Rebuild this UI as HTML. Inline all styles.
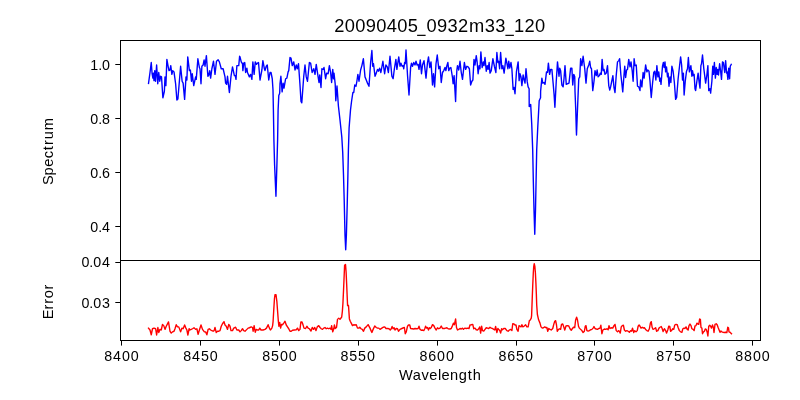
<!DOCTYPE html>
<html><head><meta charset="utf-8"><title>20090405_0932m33_120</title>
<style>html,body{margin:0;padding:0;background:#fff;}svg{display:block;}text{font-family:"Liberation Sans",sans-serif;fill:#000;}</style>
</head><body>
<svg width="800" height="400" viewBox="0 0 800 400" style="will-change:transform">
<rect x="0" y="0" width="800" height="400" fill="#ffffff"/>
<path d="M148.5 83.5 L150 72.5 L151.25 62.5 L152.12 73.75 L152.88 78.12 L153.38 73.12 L154 80.62 L154.75 70.62 L155.5 81.25 L156.62 65 L157.75 83.75 L158.75 72.5 L159.75 81.25 L160.62 76.25 L161.5 76.88 L162.88 97.75 L164.38 91.25 L165 76.88 L165.88 85.62 L166.88 59.38 L168.12 66.25 L169 70.62 L170 70 L170.75 65.62 L171.88 74.38 L172.75 70.62 L174 71.88 L175.62 83.75 L176.88 100 L177.88 99 L179.38 81.25 L180.62 66.25 L182.12 81.25 L183.12 83.12 L184.62 99.38 L186 76.88 L186.88 80 L187.75 56.88 L189.38 70.62 L190.38 70 L191.5 81.25 L192.25 73.75 L193.75 85.62 L195.62 76.88 L196.25 79.38 L197.88 58.75 L199.38 67.5 L200 68.75 L201 83.75 L201.88 66.25 L203.12 65 L204.12 60 L205 66.25 L206.38 55.62 L207.88 76.25 L208.75 75 L209.75 70.62 L210.62 78.12 L211.88 68.75 L213.5 61.25 L215 74.38 L216.5 61.25 L218.12 59.75 L219.38 61.88 L221.25 68.75 L223.12 68.75 L225 76.88 L225.62 83.12 L226.62 84.38 L227.5 76.25 L229.38 92.5 L231 76.25 L232.5 66.88 L234.38 75.62 L235.25 75.62 L236 79.38 L236.88 65.62 L238.75 65.62 L239.62 56.25 L240 56.88 L241.25 61.88 L242.5 63.75 L242.88 70.62 L243.75 63.12 L244.75 62.5 L245.62 72.5 L246.88 68.12 L247.5 72.5 L249.38 76.88 L250.62 74.38 L251.88 79.38 L252.88 61.88 L254.12 74.38 L255.25 61.88 L256.5 64.38 L257.5 63.12 L258.5 62.5 L260 80 L261.88 70 L262.88 60.62 L264.38 68.75 L265 70.62 L266.25 66.25 L267.25 65 L268.75 80 L270 72.5 L271 72.5 L272.25 78.75 L273 90 L273.4 110 L273.9 140 L274.6 165 L275.95 196.3 L276.9 165 L277.6 140 L278.1 110 L278.8 95.5 L279.7 93.3 L280 83.75 L280.88 76.25 L282.12 91.88 L283.12 83.12 L284 88.12 L285.62 78.75 L286.88 78.12 L288.12 71.88 L288.75 70.62 L290 57.5 L291 58.12 L292.25 65.62 L293.75 61.88 L295 70 L296.25 65 L297.25 68.75 L298.5 63.75 L300 85 L301 101.5 L301.8 102.8 L303.75 76.25 L305 65 L306.25 76.88 L307.5 81.25 L309.38 62.5 L310.62 63.12 L312.12 72.5 L313.75 68.75 L315 74.38 L316.25 64.38 L318.12 76.88 L319 82.5 L319.75 75 L321 87.5 L321.88 68.75 L323.12 69.38 L324 67.5 L325.62 78.75 L326.62 73.12 L328.12 73.75 L329.38 65.62 L330.62 72.5 L331.62 82.5 L332.75 69.38 L333.5 78.75 L334 73.12 L335.2 84 L335.8 100.8 L337 86 L338.4 106 L340 120 L341.8 137 L342.7 152 L343.5 175 L344.2 200 L345 235 L345.7 249.7 L346.4 235 L347.2 205 L347.9 175 L348.4 150 L349.1 128 L350.5 110 L351.6 101 L352.88 92.5 L353.75 92.5 L354.75 85 L356 86.25 L356.88 81.25 L357.88 74.38 L359 81.25 L360.62 70 L361.88 65.62 L363.38 58.75 L365 76.88 L366.25 80 L367.5 83.12 L369 86.25 L370.62 62.5 L371.88 50.5 L372.75 66.25 L373.5 63.75 L375 76.25 L376.25 73.12 L377.5 69.38 L378.5 71.25 L379.62 68.12 L380.88 72.5 L382.88 61.25 L384.62 73.75 L385.88 65 L387.25 66.88 L388.38 72.5 L390 56.25 L391.88 76.25 L393.12 78.75 L394.38 68.75 L395.88 59.38 L396.88 69.38 L398.75 56.88 L400 66.25 L400.88 63.12 L402.12 66.25 L403.12 65.62 L403.75 68.75 L404.62 62.5 L405.25 63.75 L406 50 L407.5 75 L409 95 L410.62 67.5 L411.5 63.12 L412.5 66.25 L413.75 62.5 L415 65 L416 61.25 L417.12 65 L418.12 64.38 L419 69.38 L420.25 60 L421.5 73.75 L422.5 65 L424 60.62 L426 78.12 L427.5 62.5 L428.5 56.88 L429.75 67.5 L431 61.88 L432.5 85 L433.5 73.75 L434.62 86.88 L436 63.75 L437.25 55 L438.75 68.75 L440 66.25 L440 66.25 L441.25 82.5 L442.5 72.5 L443.75 70.62 L445 67.5 L445.88 70.62 L446.88 65.62 L447.88 62.5 L448.75 70.62 L449.75 68.12 L450.88 67.5 L452.5 77.5 L453.12 83.75 L454.12 75.62 L455 91.25 L455.6 101.5 L456.25 81.25 L456.88 70 L457.5 65.62 L458.75 70 L460 61.25 L461.25 72.5 L462.5 79.38 L464.38 62.5 L465.62 69.38 L466.88 66.25 L468.12 66.88 L469.38 68.75 L470.62 85 L471.88 81.25 L472.88 80 L474 59.38 L475 65 L476.25 55.62 L477.12 61.88 L478.12 73.75 L479.12 65.62 L480 68.75 L480.88 51.88 L482.12 67.5 L483.38 61.88 L484 65.62 L485 57.5 L486.25 71.25 L487.25 65.62 L488.12 69.38 L489.12 62.5 L490 73.12 L491.25 70.62 L492.88 58.75 L494.38 66.25 L495.88 72.5 L496.88 52.5 L497.88 62.5 L498.75 61.25 L499.62 68.75 L500.62 52.5 L501.88 68.75 L502.88 65.62 L504.12 73.12 L505.88 58.12 L506.88 63.12 L507.88 68.75 L508.75 61.25 L509.75 68.12 L511 62.5 L511.88 68.75 L513.12 89.38 L514 87.5 L515 93.75 L516.5 71.25 L518.12 61.88 L519.12 80.62 L520 73.75 L521 76.88 L521.88 85.62 L523.12 75 L524 79.38 L525 83.12 L526 68.75 L527.25 81.88 L528.12 86.88 L529.12 88.75 L529.2 106.5 L530.7 104.5 L531.75 124.5 L532.7 150 L533.3 180 L534 210 L534.75 234.3 L535.5 210 L536.1 180 L536.7 150 L537.75 127.5 L538.6 112 L539.2 100.7 L540.55 97.8 L540.62 91.25 L541.88 78.12 L542.75 83.12 L544 82.5 L545 84.38 L546.5 71.88 L547.5 72.5 L548.38 63.12 L549.62 74.38 L550.62 69.38 L551.88 69.38 L553.12 83.12 L554.12 95 L554.9 107.3 L556.25 81.25 L557.5 61.88 L559 76.25 L559.75 68.12 L560.62 70.62 L561.88 85 L563.12 86.88 L564 78.75 L565 65.62 L566.25 84.38 L567.5 83.75 L569 83.12 L570.62 68.12 L571.88 68.12 L572.75 85 L573.75 74.38 L574.75 76.88 L575 91.25 L575.75 110 L576.3 130 L576.5 135 L577.55 108 L578.75 78.75 L579.75 76.88 L580.62 58.75 L581.88 65.62 L583.12 56.25 L584.75 68.75 L586 83.12 L587.25 68.75 L588.75 65 L589.75 61.25 L590.62 67.5 L591.5 68.75 L592.75 90.62 L594 81.25 L595 70.62 L596.25 75.62 L597.12 70 L598.12 76.88 L599.38 75.62 L600.38 73.12 L601.25 74.38 L602.12 59.38 L603.12 70.62 L604 69.38 L605 74.38 L606.25 73.12 L607.5 65.62 L608.75 85.62 L609.75 90 L610.62 86.88 L611.5 82.5 L612.88 75.62 L614 87.5 L615 92.5 L616.25 75 L617.5 61.88 L618.75 60.62 L619.62 58.75 L620.88 75 L621.88 83.75 L622.75 91.88 L624 75 L624.75 66.25 L625.62 77.5 L626.62 70 L627.5 69.38 L628.75 59.38 L630 66.88 L631 61.88 L632.25 71.25 L633.12 81.25 L634.12 58.75 L635 65.62 L636.25 65 L637.5 86.25 L638.75 86.88 L640 90.62 L640 90 L640.62 80 L641.88 86.88 L643.12 72.5 L644.12 78.12 L645.62 65 L646.88 71.88 L647.75 70 L649 71.25 L650 81.25 L651.25 97.5 L652.5 83.75 L653.75 72.5 L654.75 71.25 L655.88 80 L656.88 65.62 L657.88 76.88 L658.75 71.88 L659.75 81.25 L660.38 78.12 L661 84.38 L662.5 66.25 L663.38 62.5 L664.12 67.5 L665 61.88 L665.62 71.88 L666.5 66.88 L667.5 76.88 L668.12 73.12 L669 86.25 L670 76.88 L670.88 82.5 L671.88 66.25 L673.12 71.25 L674.38 82.5 L675.62 99.38 L676.62 97.5 L678.12 78.75 L679.38 67.5 L680.62 56.88 L681.62 65 L682.5 80 L683.38 73.12 L684.12 95 L685.25 81.25 L686.5 71.25 L687.5 68.75 L688.38 57.5 L689.38 71.88 L690.88 65.62 L691.88 76.25 L692.5 70.62 L693.38 75.62 L694.12 74.38 L695 88.75 L695.62 90.62 L696.88 81.25 L698.12 73.12 L699 81.25 L700 88.12 L700.88 65.62 L701.5 63.75 L702.5 55 L703.75 68.12 L704.62 75 L705.62 83.12 L706.88 75 L707.88 65.62 L708.75 90.62 L710 88.75 L710.62 93.12 L711.88 81.25 L712.75 66.25 L713.5 74.38 L714.38 62.5 L715.38 78.12 L716.25 67.5 L717.12 74.38 L717.75 69.38 L718.5 75 L719.62 63.75 L720.62 71.25 L721.5 79.38 L722.5 61.88 L723.38 62.5 L724.75 72.5 L725.62 60.62 L726.62 73.12 L727.12 71.88 L727.88 79.38 L728.75 68.12 L729.62 78.75 L730.25 66.25 L731.25 64.38" fill="none" stroke="#0000ff" stroke-width="1.39" stroke-linejoin="round" stroke-linecap="square"/>
<path d="M148.5 328.12 L150 330 L151.25 334.75 L152.5 328.75 L154 328.12 L155.62 328.75 L156.62 335 L157.88 327.5 L158.75 332.5 L160 329.38 L161.25 330 L162.5 324.38 L163.75 325.62 L165 329.38 L166.25 326.25 L168.5 321.88 L170 331.25 L171.25 333.12 L172.5 331.88 L174 331.25 L175 328.75 L176.25 324.75 L177.5 326.88 L178.75 326.88 L180.62 331.88 L181.88 328.12 L183.12 328.75 L184.62 325 L185.88 328.12 L186.88 330 L187.88 335 L189.12 328.75 L190 330 L191.25 329.38 L192.5 328.75 L194 327.75 L195.62 329.38 L196.88 328.75 L198.12 334.38 L199.38 330 L201 325 L202.5 329.38 L204.38 331.88 L205.62 331.88 L206.88 334.75 L208.12 329.38 L209.38 328.75 L210.62 330 L211.88 330.62 L213.12 331.25 L214.12 330.62 L215 327.5 L216.25 332.5 L217.5 331.25 L218.75 331.25 L220 330.62 L221.25 326.25 L222.5 323.75 L224 321.62 L225 325 L226.25 326.25 L227.5 329.38 L228.75 324.38 L230 326.25 L231 330.62 L232.5 330.62 L233.75 328.12 L235.62 327.25 L236.88 330 L238.75 330 L240 331.88 L241.25 330.62 L242.5 328.75 L243.75 330.62 L245 331.25 L246.88 329.38 L248.12 328.12 L249.38 327.75 L251.25 326.88 L252.5 327.5 L253.12 331.25 L254.12 325.62 L255.25 332.25 L256.25 329.38 L257.5 330 L258.75 330 L259.75 328.12 L261 330 L263.12 330 L265 329.38 L266.5 328.12 L268.12 324.75 L269.38 328.12 L270.38 330 L271.88 328.12 L272.62 325.62 L273.1 321.3 L273.75 310 L274.45 298.8 L275 294.7 L276 294.7 L276.85 301.3 L277.5 310 L278.35 321.3 L278.88 326.25 L279.75 322.5 L280.62 328.12 L281.5 324.38 L282.5 324.75 L283.75 323.12 L285 321.25 L286.25 325 L287.5 326.88 L288.75 328.75 L290 331.25 L291.25 331.25 L292.5 330.25 L294.38 330 L296.25 329.75 L297.5 328.12 L298.75 330.62 L300 329.38 L300.88 321.88 L301.88 321.88 L302.88 324.38 L304 328.12 L305.62 328.5 L306.88 326.25 L308.12 328.12 L309.38 328.75 L311 331 L312.25 327.5 L313.5 329.38 L314.75 327.5 L316 330.62 L317.25 326.88 L318.75 325.62 L320 327.5 L321.25 328.75 L322.5 329.38 L323.75 328.12 L325 327.5 L326.25 328.75 L327.5 328.12 L328.75 328.75 L330 328.12 L331 329.38 L331.62 325.62 L332.75 331.88 L333.75 328.75 L334.38 325 L335.25 328.5 L336.5 327.5 L337.5 319.38 L338.75 318.12 L340 319.38 L341.7 317 L342.4 311 L342.95 303 L343.5 291 L344 279.5 L344.6 265.2 L345.5 264.4 L346.1 272 L346.7 285 L347.2 297 L347.6 305.6 L348.5 305.5 L349.4 318.9 L350.25 321.25 L351.25 323.12 L352.5 325.62 L353.75 324.75 L355 325 L356.25 324.75 L357.5 328.12 L358.75 328.12 L359.75 327.25 L361 328.75 L362.25 329.38 L363.5 331.25 L364.75 328.12 L366.25 326.88 L368.12 324.62 L370 328.12 L371.25 331.25 L371.88 332.5 L373.12 329.38 L374.75 326 L376.25 327.5 L377.5 328.12 L378.75 328.12 L380 329.38 L381.88 328.12 L383.12 327.25 L384.75 326.88 L386 328.5 L387.5 328.5 L389 328.75 L390.25 330 L391.25 328.75 L392.12 326.5 L393.12 328.75 L394.12 327.75 L395 330 L396.25 328.5 L397.5 328.75 L398.5 331.25 L400 329.38 L401.88 328.5 L403.5 327.75 L404.38 327.5 L405.25 333.75 L406.25 331.88 L407.5 326.25 L408.5 325 L409.75 325 L410.62 328.5 L412.25 328.75 L413.75 329 L415 328.5 L416.88 328.75 L418.12 328.5 L419 326.25 L420 329.38 L421.25 330.25 L422.5 330 L423.75 330.62 L424.75 328.75 L425.62 326.25 L426.62 328.12 L427.5 327.5 L428.5 330 L429.38 327.75 L430.25 328.5 L431.25 327.5 L432.5 324.62 L433.75 325.62 L435 328.12 L436.25 330 L437.5 327.75 L438.75 328.75 L440 328.12 L441.25 326 L442.5 328.5 L444.38 328.5 L445.62 328.12 L446.88 327.75 L448.12 328.75 L450 329 L451.25 328.5 L452.5 325.62 L453.5 323.12 L454.38 324.75 L455.62 319 L456.5 327.5 L457.5 330 L458.75 329.38 L460 328.5 L461.25 329 L462.5 328.12 L463.5 329.38 L464.75 328.12 L466.25 328.5 L467.75 328.12 L469 328.5 L470 325 L471.25 324.75 L472.75 324.38 L473.75 328.75 L475 328.12 L476.25 329.75 L477.5 330 L478.75 328.75 L479.75 326.88 L480.62 333.12 L481.62 326.25 L482.5 330.62 L483.75 331 L485 329.38 L486.25 327.75 L487.5 328.12 L488.75 328.5 L490 327.25 L491.25 328.12 L492.5 328.5 L493.75 329.38 L494.75 330 L495.62 326.5 L496.88 332.5 L497.88 328.5 L498.75 329.38 L499.75 330.62 L500.62 333.12 L501.62 328.75 L502.5 329.75 L503.75 328.5 L505.25 328.5 L506.88 330.62 L508.12 331.25 L509.38 330 L510.62 329.38 L511.88 330.62 L512.75 323.75 L514 324 L515 325 L516 325 L516.88 329.38 L518.12 331.25 L519 325.62 L520 326.25 L521 326.88 L521.88 324.75 L522.88 326.88 L524 326.25 L525.62 324.75 L526.88 326.88 L528.12 326.88 L529.38 320.62 L530.25 320 L531.25 318.12 L531.6 315.6 L532 305 L532.4 294 L532.8 284 L533.3 273 L533.75 266.3 L534.25 263.6 L534.85 266.3 L535.4 273 L535.95 284 L536.35 294 L536.7 304.8 L537.4 314.5 L538.6 319.8 L540 323.12 L541 326.88 L542.25 328.12 L543.5 327.75 L544.75 326.88 L546 327.75 L546.88 327.5 L547.75 331.25 L548.75 328.5 L550 329.38 L551.25 330 L552.75 328.5 L553.75 324.38 L554.75 321.25 L555.62 320.62 L556.5 325 L557.25 331.25 L558.5 329.38 L559.75 328.75 L560.62 329.38 L561.5 324.38 L562.75 324 L563.75 326.88 L564.75 330 L566 326 L567.25 325.62 L568.75 326 L570 328.75 L571.25 330.25 L572.25 328.75 L573.5 327.25 L574.75 327.5 L575.62 320 L576.62 317.25 L577.5 320 L578.5 326.25 L579.38 328.12 L580.62 329.38 L581.88 330.62 L583.12 332.5 L584.38 331.25 L585.25 326.25 L586 325.62 L586.88 330.62 L588.12 331 L589.38 330.62 L590.62 329.75 L591.88 329.38 L593.12 328.12 L594 326.5 L595 328.5 L596.25 329 L597.5 329.38 L598.75 328.5 L600 328.12 L600.88 325.25 L601.88 333.75 L602.88 330 L604.38 329 L605.62 329.38 L606.88 328.75 L608.12 329.75 L609 325.62 L610 328.5 L611.25 327.75 L612.75 328.12 L614 325.62 L615 324.38 L616.25 330.62 L617.5 331.88 L618.5 330.62 L619.38 331.25 L620.25 333.12 L621.25 326.88 L622.25 325.62 L623.38 325.25 L624.38 330 L625.62 331.25 L626.88 330.62 L628.12 331.25 L629.38 332.25 L630.62 330.62 L631.62 331.25 L632.5 328.12 L633.75 332.5 L634.75 330.62 L636 331.88 L637.25 330.62 L638.12 326.25 L639.12 325 L640 326.25 L641 328.12 L642.25 327.25 L643.5 328.12 L644.38 327.75 L645.62 329.38 L646.88 330.62 L648.12 331.25 L649.38 328.75 L650.38 323.12 L651.25 321.62 L652.12 327.25 L653.12 329.38 L654.38 328.75 L655.62 327.75 L656.62 331.25 L657.88 330.62 L659 328.12 L660 327.25 L661.25 326.5 L662.25 328.75 L663.12 331.5 L664.38 328.75 L665.62 330.62 L666.5 333.12 L667.75 330 L668.75 326.25 L669.75 326.5 L670.62 331.25 L671.5 330.62 L672.75 328.75 L673.75 329.38 L674.75 325 L676 324.38 L677.25 324.75 L678.12 327.5 L679.38 330.62 L680.62 331.88 L681.88 332.25 L682.88 328.75 L684 328.12 L685 328.5 L686 326.88 L687.25 329.38 L688.12 330 L689 325.62 L690 324 L691 325.62 L691.88 328.75 L693.12 329.38 L694.12 330.62 L695 326 L696 325.62 L696.88 323.12 L697.88 324 L698.75 324.38 L699.62 319 L700.38 319.38 L701 327.5 L701.88 328.12 L702.5 333.75 L703.5 331.88 L704.38 331.25 L705.25 329 L706.25 329.38 L707.25 332.5 L707.88 336 L708.75 326.25 L709.75 325.25 L710.62 326.25 L711.5 328.12 L712.5 325 L713.38 327.5 L714 332.5 L715 324.38 L716.25 323.75 L717.25 325 L718.12 327.5 L719.12 330 L720 332.25 L721 331 L721.88 331.88 L723.12 332.25 L724.38 332.5 L725.62 332.25 L726.88 332.5 L727.75 327.25 L728.5 327.75 L729 331.88 L730 332.25 L731.5 333.75" fill="none" stroke="#ff0000" stroke-width="1.39" stroke-linejoin="round" stroke-linecap="square"/>
<g fill="none" stroke="#000" stroke-width="1" stroke-linecap="butt" shape-rendering="crispEdges">
<path d="M120.5 40 V341 M760.5 40 V341 M120 40.5 H761 M120 260.5 H761 M120 340.5 H761"/>
</g>
<g fill="none" stroke="#000" stroke-width="1" stroke-linecap="butt">
<path d="M121.5 341 V345.6"/>
<path d="M200.5 341 V345.6"/>
<path d="M279.5 341 V345.6"/>
<path d="M358.5 341 V345.6"/>
<path d="M437.5 341 V345.6"/>
<path d="M516.5 341 V345.6"/>
<path d="M594.5 341 V345.6"/>
<path d="M673.5 341 V345.6"/>
<path d="M752.5 341 V345.6"/>
<path d="M115.3 64.5 H120"/>
<path d="M115.3 118.5 H120"/>
<path d="M115.3 172.5 H120"/>
<path d="M115.3 226.5 H120"/>
<path d="M115.3 262.5 H120"/>
<path d="M115.3 302.5 H120"/>
</g>
<text x="104.29 113.12 121.96 130.79" y="360.7" font-size="14.25">8400</text>
<text x="183.29 192.12 200.96 209.79" y="360.7" font-size="14.25">8450</text>
<text x="262.29 271.12 279.96 288.79" y="360.7" font-size="14.25">8500</text>
<text x="340.39 349.22 358.06 366.89" y="360.7" font-size="14.25">8550</text>
<text x="419.39 428.22 437.06 445.89" y="360.7" font-size="14.25">8600</text>
<text x="498.39 507.22 516.06 524.89" y="360.7" font-size="14.25">8650</text>
<text x="577.29 586.12 594.96 603.79" y="360.7" font-size="14.25">8700</text>
<text x="656.29 665.12 673.96 682.79" y="360.7" font-size="14.25">8750</text>
<text x="735.29 744.12 752.96 761.79" y="360.7" font-size="14.25">8800</text>
<text x="90.32 98.18 102.07" y="70.0" font-size="14.25">1.0</text>
<text x="90.32 98.18 102.07" y="124.0" font-size="14.25">0.8</text>
<text x="90.32 98.18 102.07" y="178.0" font-size="14.25">0.6</text>
<text x="90.32 98.18 102.07" y="232.0" font-size="14.25">0.4</text>
<text x="81.49 89.34 93.24 102.07" y="267.0" font-size="14.25">0.04</text>
<text x="81.49 89.34 93.24 102.07" y="308.0" font-size="14.25">0.03</text>
<text x="334.17 344.69 355.20 365.72 376.23 386.75 397.26 407.78 417.17 426.56 437.08 447.59 458.11 468.88 484.73 495.24 504.63 514.02 524.54 535.05" y="32" font-size="18.3">20090405 0932m33 120</text>
<rect x="417.12" y="34.75" width="8.5" height="1.2" fill="#000"/>
<rect x="505.39" y="34.75" width="8.5" height="1.2" fill="#000"/>
<text x="399.05 412.84 421.49 429.34 437.89 441.56 450.10 458.78 467.84 472.83" y="379.8" font-size="14.6">Wavelength</text>
<g transform="translate(52.8 151.0) rotate(-90)"><text x="-34.11 -24.48 -15.80 -7.30 0.86 6.03 11.66 20.81" y="0" font-size="14.6">Spectrum</text></g>
<g transform="translate(52.8 301.5) rotate(-90)"><text x="-17.68 -8.00 -2.29 3.18 11.92" y="0" font-size="14.6">Error</text></g>
</svg></body></html>
